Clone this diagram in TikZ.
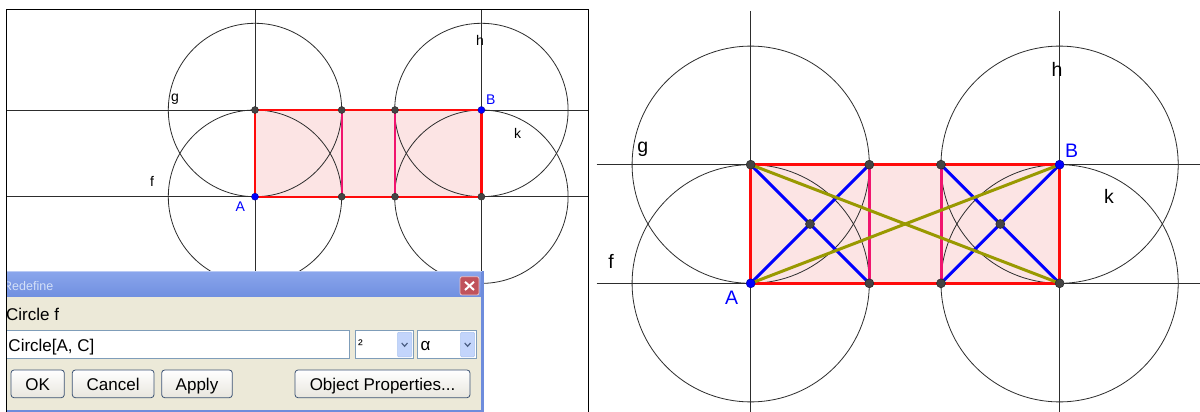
\documentclass[tikz,border=0pt]{standalone}
\usepackage{fontspec}
\setmainfont{Liberation Sans}
\definecolor{rectfill}{RGB}{252,228,228}
\definecolor{rectred}{RGB}{255,10,10}
\definecolor{midpink}{RGB}{240,20,110}
\definecolor{geoolive}{RGB}{153,153,0}
\definecolor{geoblue}{RGB}{0,0,255}
\definecolor{ptgrey}{RGB}{68,68,68}
\definecolor{linegrey}{RGB}{45,45,45}
\definecolor{dlgbeige}{RGB}{236,233,216}
\definecolor{titletop}{RGB}{138,166,236}
\definecolor{titlebot}{RGB}{112,143,224}
\definecolor{titletext}{RGB}{212,224,248}
\definecolor{closered}{RGB}{192,82,92}
\definecolor{dlgborder}{RGB}{110,140,220}
\definecolor{fieldborder}{RGB}{127,157,185}
\definecolor{dropblue}{RGB}{195,213,251}
\definecolor{dropborder}{RGB}{170,195,240}
\definecolor{chevcol}{RGB}{77,97,133}
\definecolor{btnborder}{RGB}{60,82,115}
\definecolor{btnbottom}{RGB}{232,230,222}
\begin{document}
\begin{tikzpicture}[x=1pt,y=-1pt,
  axis/.style={draw=linegrey, line width=0.9pt},
  circ/.style={draw=linegrey, line width=0.8pt},
  redL/.style={draw=rectred, line width=2.4pt, line join=round},
  redR/.style={draw=rectred, line width=3pt, line join=round},
  pinkL/.style={draw=midpink, line width=2pt},
  pinkR/.style={draw=midpink, line width=3pt},
  diagB/.style={draw=geoblue, line width=3pt},
  diagO/.style={draw=geoolive, line width=3pt},
  ptL/.style={circle, fill=ptgrey, draw=black!85, line width=0.4pt, inner sep=0pt, minimum size=7pt},
  ptR/.style={circle, fill=ptgrey, draw=black!85, line width=0.5pt, inner sep=0pt, minimum size=9pt},
  ptLb/.style={ptL, fill=geoblue, draw=blue!60!black},
  ptRb/.style={ptR, fill=geoblue, draw=blue!60!black},
  lblL/.style={anchor=base, inner sep=0pt, font=\fontsize{14}{16}\selectfont},
  lblR/.style={anchor=base, inner sep=0pt, font=\fontsize{19.5}{22}\selectfont},
  dlgtext/.style={anchor=base west, inner sep=0pt, font=\fontsize{17}{20}\selectfont},
  btntext/.style={anchor=base, inner sep=0pt, font=\fontsize{17}{20}\selectfont},
  btnbox/.style={draw=btnborder, rounded corners=3pt, top color=white, bottom color=btnbottom, line width=0.8pt},
  field/.style={fill=white, draw=fieldborder, line width=0.8pt},
  dropbtn/.style={fill=dropblue, draw=dropborder, line width=0.5pt, rounded corners=1pt},
  chev/.style={draw=chevcol, line width=1.2pt},
]
\useasboundingbox (0,0) rectangle (1200,412);
\fill[white] (0,0) rectangle (1200,412);

% ================= LEFT PANEL =================
\begin{scope}
\clip (6,9.3) rectangle (588,412);
\coordinate (LA) at (255,196.7);
\coordinate (LTL) at (255,110);
\coordinate (LP1) at (341.7,110);
\coordinate (LP2) at (395,110);
\coordinate (LB) at (481.4,110);
\coordinate (LQ1) at (341.7,196.7);
\coordinate (LQ2) at (395,196.7);
\coordinate (LBR) at (481.4,196.7);
\coordinate (LH1w) at (6,110);     \coordinate (LH1e) at (588,110);
\coordinate (LH2w) at (6,196.7);   \coordinate (LH2e) at (588,196.7);
\coordinate (LV1n) at (255,9.3);   \coordinate (LV1s) at (255,412);
\coordinate (LV2n) at (481.4,9.3); \coordinate (LV2s) at (481.4,412);

\fill[rectfill] (LTL) rectangle (LBR);
\draw[axis] (LH1w) -- (LH1e);
\draw[axis] (LH2w) -- (LH2e);
\draw[axis] (LV1n) -- (LV1s);
\draw[axis] (LV2n) -- (LV2s);
\draw[circ] (LTL) circle[radius=86.7pt];
\draw[circ] (LA) circle[radius=86.7pt];
\draw[circ] (LB) circle[radius=86.7pt];
\draw[circ] (LBR) circle[radius=86.7pt];
\draw[redL] (LTL) -- (LB) -- (LBR) -- (LA) -- cycle;
\draw[pinkL] (LP1) -- (LQ1);
\draw[pinkL] (LP2) -- (LQ2);
\node[ptL] (LTLd) at (LTL) {};
\node[ptL] (LP1d) at (LP1) {};
\node[ptL] (LP2d) at (LP2) {};
\node[ptL] (LQ1d) at (LQ1) {};
\node[ptL] (LQ2d) at (LQ2) {};
\node[ptL] (LBRd) at (LBR) {};
\node[ptLb] (LAd) at (LA) {};
\node[ptLb] (LBd) at (LB) {};

\node[lblL] (Lg) at (175,101) {g};
\node[lblL] (Lf) at (152,186) {f};
\node[lblL] (Lh) at (480,46) {h};
\node[lblL] (Lk) at (517.7,138.3) {k};
\node[lblL, text=geoblue] (LAl) at (240.3,211.7) {A};
\node[lblL, text=geoblue] (LBl) at (490.7,104) {B};

% ---- dialog ----
\shade[top color=titletop, bottom color=titlebot] (0,271) rectangle (483,297);
\fill[dlgbeige] (0,297) rectangle (481,410.5);
\fill[dlgborder] (481,271) rectangle (483.5,412);
\fill[dlgborder] (0,410) rectangle (483.5,412);
\draw[white!40!titletop, line width=0.8pt] (0,271.5) -- (482,271.5);
\node[anchor=base west, inner sep=0pt, text=titletext, font=\fontsize{12.5}{14}\selectfont] (title) at (3,290.7) {Redefine};
\filldraw[fill=closered, draw=white!65!closered, line width=0.8pt, rounded corners=2pt] (460,276.7) rectangle (479,295);
\draw[white, line width=2pt] (465,281.8) -- (474,290) (474,281.8) -- (465,290);

\node[dlgtext] (cf) at (6,320.7) {Circle f};
\filldraw[field] (6.7,330.7) rectangle (349.3,358.3);
\node[dlgtext] (inp) at (8.3,351.5) {Circle[A, C]};
\filldraw[field] (355,330.7) rectangle (413.3,358.3);
\filldraw[dropbtn] (397.5,332.3) rectangle (411.8,356.8);
\draw[chev] (401.7,343) -- (404.6,346.3) -- (407.5,343);
\node[dlgtext, font=\fontsize{14}{16}\selectfont] (sq) at (358,349) {²};
\filldraw[field] (417.7,330.7) rectangle (476,358.3);
\filldraw[dropbtn] (460.7,332.3) rectangle (474.5,356.8);
\draw[chev] (464.7,343) -- (467.6,346.3) -- (470.5,343);
\node[dlgtext] (al) at (420.5,350.7) {α};

\shade[btnbox] (11,370) rectangle (64.3,397.7);
\node[btntext] (okb) at (37.65,390.5) {OK};
\shade[btnbox] (72.3,370) rectangle (154,397.7);
\node[btntext] (cancelb) at (113.15,390.5) {Cancel};
\shade[btnbox] (161.7,370) rectangle (232.3,397.7);
\node[btntext] (applyb) at (197,390.5) {Apply};
\shade[btnbox] (295,370) rectangle (470,397.7);
\node[btntext] (objb) at (382.5,390.5) {Object Properties...};
\end{scope}
\draw[black, line width=1pt] (6,413) -- (6,9.3) -- (588,9.3) -- (588,413);

% ================= RIGHT PANEL =================
\coordinate (RA) at (750.7,283.3);
\coordinate (RTL) at (750.7,164.7);
\coordinate (RP1) at (869.3,164.7);
\coordinate (RP2) at (941,164.7);
\coordinate (RB) at (1059.6,164.7);
\coordinate (RQ1) at (869.3,283.3);
\coordinate (RQ2) at (941,283.3);
\coordinate (RBR) at (1059.6,283.3);
\coordinate (RC1) at (810,224);
\coordinate (RC2) at (1000.3,224);
\coordinate (RH1w) at (596.7,164.7) ; \coordinate (RH1e) at (1200,164.7);
\coordinate (RH2w) at (596.7,283.3) ; \coordinate (RH2e) at (1200,283.3);
\coordinate (RV1n) at (750.7,11) ;    \coordinate (RV1s) at (750.7,412);
\coordinate (RV2n) at (1059.6,11) ;   \coordinate (RV2s) at (1059.6,412);

\fill[rectfill] (RTL) rectangle (RBR);
\draw[axis] (RH1w) -- (RH1e);
\draw[axis] (RH2w) -- (RH2e);
\draw[axis] (RV1n) -- (RV1s);
\draw[axis] (RV2n) -- (RV2s);
\draw[circ] (RTL) circle[radius=118.6pt];
\draw[circ] (RA) circle[radius=118.6pt];
\draw[circ] (RB) circle[radius=118.6pt];
\draw[circ] (RBR) circle[radius=118.6pt];
\draw[redR] (RTL) -- (RB) -- (RBR) -- (RA) -- cycle;
\draw[pinkR] (RP1) -- (RQ1);
\draw[pinkR] (RP2) -- (RQ2);
\draw[diagB] (RTL) -- (RQ1);
\draw[diagB] (RA) -- (RP1);
\draw[diagB] (RP2) -- (RBR);
\draw[diagB] (RQ2) -- (RB);
\draw[diagO] (RTL) -- (RBR);
\draw[diagO] (RA) -- (RB);
\node[ptR] (RTLd) at (RTL) {};
\node[ptR] (RP1d) at (RP1) {};
\node[ptR] (RP2d) at (RP2) {};
\node[ptR] (RQ1d) at (RQ1) {};
\node[ptR] (RQ2d) at (RQ2) {};
\node[ptR] (RBRd) at (RBR) {};
\node[ptR] (RC1d) at (RC1) {};
\node[ptR] (RC2d) at (RC2) {};
\node[ptRb] (RAd) at (RA) {};
\node[ptRb] (RBd) at (RB) {};

\node[lblR] (Rg) at (642.7,152) {g};
\node[lblR] (Rf) at (611,268.3) {f};
\node[lblR] (Rh) at (1057,76.7) {h};
\node[lblR] (Rk) at (1109,203.3) {k};
\node[lblR, text=geoblue] (RAl) at (731.7,304) {A};
\node[lblR, text=geoblue] (RBl) at (1071.7,157.3) {B};
\end{tikzpicture}
\end{document}
